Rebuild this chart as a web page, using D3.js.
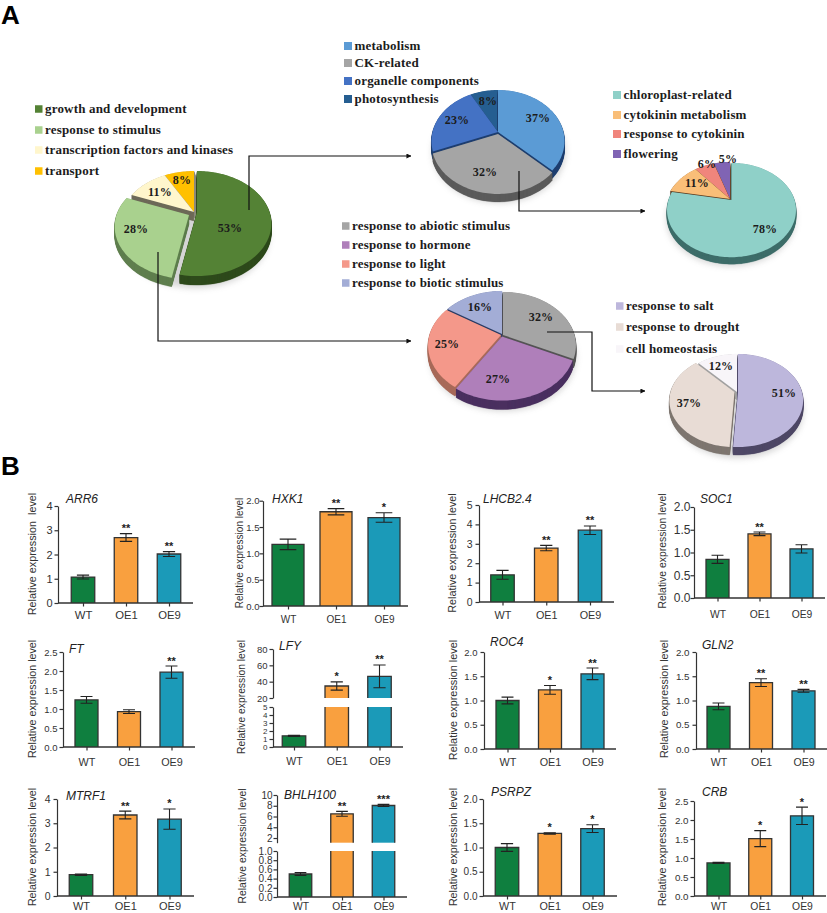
<!DOCTYPE html>
<html><head><meta charset="utf-8">
<script src="https://cdn.jsdelivr.net/npm/d3@7"></script>
<style>
html,body{margin:0;padding:0;background:#fff}
svg{display:block}
.leg{font:bold 13px "Liberation Serif";fill:#1c1c1c;letter-spacing:.18px}
.pct{font:bold 12px "Liberation Serif";fill:#1c1c1c;text-anchor:middle;dominant-baseline:central;letter-spacing:.2px}
.tick text{font-family:"Liberation Sans";fill:#333}
.yl{font-family:"Liberation Sans";fill:#333;text-anchor:middle}
.gn{font:italic 12px "Liberation Sans";fill:#222}
.st{font:bold 11px "Liberation Sans";fill:#222;text-anchor:middle}
.pl{font:bold 26px "Liberation Sans";fill:#000}
</style></head><body>
<svg id="c" width="827" height="913"></svg>
<script>
// ---------- data: pies ----------
const pie1Labels=["growth and development","response to stimulus","transcription factors and kinases","transport"];
const pie1Values=[53,28,11,8];
const pie2Labels=["metabolism","CK-related","organelle components","photosynthesis"];
const pie2Values=[37,32,23,8];
const pie3Labels=["chloroplast-related","cytokinin metabolism","response to cytokinin","flowering"];
const pie3Values=[78,11,6,5];
const pie4Labels=["response to abiotic stimulus","response to hormone","response to light","response to biotic stimulus"];
const pie4Values=[32,27,25,16];
const pie5Labels=["response to salt","response to drought","cell homeostasis"];
const pie5Values=[51,37,12];

// ---------- data: bars ----------
const strains=["WT","OE1","OE9"];
const genes=["ARR6","HXK1","LHCB2.4","SOC1","FT","LFY","ROC4","GLN2","MTRF1","BHLH100","PSRPZ","CRB"];
const means=[[1.07,2.7,2.02],[1.17,1.79,1.68],[1.4,2.78,3.7],[.85,1.41,1.08],[1.24,.93,1.97],[1.4,34.7,46.5],
             [1.0,1.22,1.55],[.88,1.37,1.2],[.88,3.34,3.17],[.5,6.5,8.05],[1.0,1.29,1.39],[.87,1.51,2.11]];
const errors=[[.08,.16,.1],[.1,.06,.09],[.23,.14,.22],[.09,.04,.09],[.09,.05,.16],[.07,5,14],
              [.07,.09,.12],[.07,.08,.03],[.03,.16,.42],[.03,.45,.2],[.08,.015,.08],[.015,.21,.23]];
const stars=[["","**","**"],["","**","*"],["","**","**"],["","**",""],["","","**"],["","*","**"],
             ["","*","**"],["","**","**"],["","**","*"],["","**","***"],["","*","*"],["","*","*"]];
const yTicks=[[0,1,2,3,4],[0,.5,1,1.5,2],[0,1,2,3,4,5],[0,.5,1,1.5,2],[0,.5,1,1.5,2,2.5],[0,1,2,3,4,5],
              [0,.5,1,1.5,2],[0,.5,1,1.5,2],[0,1,2,3,4],[0,.2,.4,.6,.8,1],[0,.5,1,1.5,2],[0,.5,1,1.5,2,2.5]];
const upperTicksLFY=[20,40,60,80];
const upperTicksBHLH=[2,4,6,8,10];
const yTitles=["Relative expression  level"].concat(Array(11).fill("Relative expression level"));

// ---------- layout ----------
const pieLayouts=[
 {labels:pie1Labels,values:pie1Values,v:[194,212],rx:72.5,ry:50,p:.22,d:9,
  fill:["#548235","#A9D18E","#FFF6CC","#FFC000"],wall:["#2E4A1C","#5F7F4E","#6E6A58","#8E8C7E"],
  off:[[3,0],[-5,3],[0,0],[0,0]],skew:[0,0,0,.33],
  pct:[[230,228],[136,229],[160,192],[182,180]],
  leg:{x:35,s:7.5,ys:[109,130,150,171]}},
 {labels:pie2Labels,values:pie2Values,v:[498,132],rx:65.5,ry:49.4,p:.176,d:8,
  fill:["#5B9BD5","#A5A5A5","#4472C4","#255E91"],wall:["#1F3F70","#5B5B5B","#1F3F70","#1F3F70"],
  off:[[0,0],[0,2],[0,0],[0,0]],skew:[0,0,0,0],
  pct:[[538,118],[485,172],[457,120],[488,101]],
  leg:{x:344,s:8,ys:[46,63,81,99]}},
 {labels:pie3Labels,values:pie3Values,v:[730,199],rx:63,ry:45,p:.213,d:7,
  fill:["#8FD0C8","#F9BE78","#F0857C","#8064B4"],wall:["#3E6E6A","#5A3A20","#5A3A20","#5A3A20"],
  off:[[1.5,1],[0,0],[0,0],[0,0]],skew:[0,0,0,0],
  pct:[[765,229],[697,183],[707,164],[728,159]],
  leg:{x:613,s:8,ys:[95,115,134,154]}},
 {labels:pie4Labels,values:pie4Values,v:[502,335],rx:71.5,ry:51.5,p:.196,d:9,
  fill:["#A5A5A5","#AF7FBA","#F4988A","#A3ADD6"],wall:["#555555","#4A3060","#A86A5A","#2C3E66"],
  off:[[1,0],[0,1.5],[-1,0],[0,-1]],skew:[0,0,0,0],
  pct:[[541,317],[498,379],[447,344],[480,307]],
  leg:{x:342,s:7.5,ys:[226,245,264,283]}},
 {labels:pie5Labels,values:pie5Values,v:[737,392],rx:64,ry:45,p:.183,d:8,
  fill:["#BDB7DC","#E8DCD5","#F8F5F9"],wall:["#4E4866","#7E7670","#A0A0A0"],
  off:[[1,0],[-2.5,0],[0,0]],skew:[0,0,0],
  pct:[[784,393],[689,403],[721,366]],
  leg:{x:616,s:7.5,ys:[306,327,349]}}
];
const arrowPaths=[
 [[249,210],[249,156],[411,156]],
 [[158,252],[158,341],[411,341]],
 [[519,171],[519,211],[645,211]],
 [[547,332],[592,332],[592,391],[645,391]]
];
const barLayouts=[
 {ax:58,end:193,y0:603,top:506,c:[83,169],w:23.5,title:[66,503],yl:[36,554],xo:4.5,tf:11,xf:11.3,ylf:10.8,tp:2},
 {ax:263,end:408,y0:606,top:500.7,c:[288,384],w:32,title:[272,503],yl:[243,553],xo:6.5,tf:9.5,xf:10,ylf:10,tp:0},
 {ax:479,end:614,y0:602,top:505,c:[502.5,590],w:23.5,title:[483,503],yl:[456,553],xo:5.5,tf:10.5,xf:10.8,ylf:10.8,tp:3},
 {ax:694,end:825,y0:598,top:507,c:[717.5,801.5],w:23,title:[700,503],yl:[666,551],xo:9.5,tf:12,xf:10.3,ylf:10.4,tp:0},
 {ax:63,end:195,y0:747,top:652,c:[86.5,171.5],w:23,title:[69,653],yl:[36,699],xo:7.5,tf:9.5,xf:10.8,ylf:10.7,tp:2},
 {ax:273,end:403,y0:747,top:707,c:[294,379.5],w:23.5,title:[279,650],yl:[245,697],xo:7.5,tf:9.5,ltf:8,xf:10.5,ylf:10.3,tp:2,up:{min:20,max:80,bottom:698,top:649,ticks:upperTicksLFY}},
 {ax:484,end:616,y0:749,top:652,c:[507.5,592.5],w:23,title:[490,646],yl:[457,700],xo:5.5,tf:9.5,xf:10.8,ylf:10.9,tp:3},
 {ax:696,end:827,y0:749,top:652,c:[718.5,803.5],w:23,title:[702,649],yl:[668,699],xo:5.5,tf:9.8,xf:10.6,ylf:10.7,tp:3},
 {ax:57,end:194,y0:896,top:799,c:[81,169.5],w:23.5,title:[66,800],yl:[36,847],xo:3,tf:10.5,xf:11,ylf:10.7,tp:3},
 {ax:277,end:407,y0:897,top:851,c:[300.5,383.5],w:22.5,title:[284,799],yl:[246,846],xo:2.5,tf:10,xf:10.3,ylf:10.4,tp:1,up:{min:1.13,max:10,bottom:842.7,top:795,ticks:upperTicksBHLH}},
 {ax:483,end:617,y0:896,top:799,c:[507,592.5],w:23.5,title:[491,796],yl:[457,847],xo:3,tf:10,xf:10.8,ylf:10.7,tp:2},
 {ax:694,end:826,y0:896,top:801,c:[718.5,802],w:23,title:[702,796],yl:[666,847],xo:3,tf:9.8,xf:10.4,ylf:10.7,tp:2}
];
const barFill=d3.scaleOrdinal().domain(strains).range(["#0F7F3F","#F9A03F","#1B9AB8"]);
const ink="#333";

const svg=d3.select("#c");
svg.append("defs").append("filter").attr("id","blur").attr("x","-30%").attr("y","-30%").attr("width","160%").attr("height","160%")
   .append("feGaussianBlur").attr("stdDeviation",3);
const m=svg.append("marker").attr("id","ah").attr("viewBox","0 0 6 6").attr("refX",5.5).attr("refY",3)
   .attr("markerWidth",5).attr("markerHeight",5).attr("markerUnits","userSpaceOnUse").attr("orient","auto");
m.append("path").attr("d","M0,0L6,3L0,6Z").attr("fill","#111");

svg.append("text").attr("class","pl").attr("x",1).attr("y",24).text("A");
svg.append("text").attr("class","pl").attr("x",1).attr("y",475).text("B");

// ---------- pies ----------
const lineGen=d3.line();
function drawPie(L){
  const g=svg.append("g");
  const proj=(a,r)=>{const u=Math.sin(a)*r,v=-Math.cos(a)*r,s=1/(1-L.p*v);return [L.rx*u*s,L.ry*v*s];};
  const arcs=d3.pie().sort(null).value(d=>d).startAngle(0).endAngle(2*Math.PI)(L.values);
  const slicePts=d=>{const n=Math.max(2,Math.ceil((d.endAngle-d.startAngle)/.03)),pts=[[0,0]];
    for(let i=0;i<=n;i++)pts.push(proj(d.startAngle+(d.endAngle-d.startAngle)*i/n,1));return pts;};
  // soft ground shadow
  const ring=d3.range(0,2*Math.PI,.05).map(a=>proj(a,1.0));
  g.append("path").attr("d",lineGen(ring)+"Z").attr("transform",`translate(${L.v[0]+1},${L.v[1]+L.d+3})`)
    .attr("fill","#888").attr("opacity",.35).attr("filter","url(#blur)");
  const order=arcs.map((d,i)=>({d,i,k:-Math.cos((d.startAngle+d.endAngle)/2)})).sort((a,b)=>a.k-b.k);
  order.forEach(({d,i})=>{
    const o=L.off[i],sl=g.append("g").attr("transform",`translate(${L.v[0]+o[0]},${L.v[1]+o[1]})`);
    const path=lineGen(slicePts(d))+"Z";
    sl.selectAll("path.w").data(d3.range(L.d,0,-.5)).join("path").attr("class","w")
      .attr("d",path).attr("transform",t=>`translate(${t*L.skew[i]},${t})`).attr("fill",L.wall[i]).attr("stroke",L.wall[i]).attr("stroke-width",.3);
    sl.append("path").attr("d",path).attr("fill",L.fill[i]);
  });
  L.values.forEach((v,i)=>{
    svg.append("text").attr("class","pct").attr("x",L.pct[i][0]).attr("y",L.pct[i][1]).text(v+"%");
    svg.append("rect").attr("x",L.leg.x).attr("y",L.leg.ys[i]-L.leg.s/2).attr("width",L.leg.s).attr("height",L.leg.s).attr("fill",L.fill[i]);
    svg.append("text").attr("class","leg").attr("x",L.leg.x+L.leg.s+2.5).attr("y",L.leg.ys[i]+3.5).text(L.labels[i]);
  });
}
pieLayouts.forEach(drawPie);

svg.selectAll("path.arrow").data(arrowPaths).join("path").attr("class","arrow")
  .attr("d",d=>lineGen(d)).attr("fill","none").attr("stroke","#111").attr("stroke-width",1.2).attr("marker-end","url(#ah)");

// ---------- bars ----------
genes.forEach((gene,gi)=>{
  const L=barLayouts[gi],g=svg.append("g");
  const x=d3.scalePoint().domain(strains).range(L.c);
  const low=d3.scaleLinear().domain([0,d3.max(yTicks[gi])]).range([L.y0,L.top]);
  const up=L.up?d3.scaleLinear().domain([L.up.min,L.up.max]).range([L.up.bottom,L.up.top]):null;
  const Y=v=>(up&&v>low.domain()[1])?up(v):low(v);
  const fmt=yTicks[gi].every(t=>t%1===0)?d3.format("d"):d3.format(".1f");
  // bars
  strains.forEach((s,i)=>{
    const mv=means[gi][i],e=errors[gi][i],cx=x(s),w=L.w;
    const rects=(up&&mv>low.domain()[1])?[[low.domain()[1],0],[mv,up.domain()[0]]]:[[mv,0]];
    rects.forEach(([hi,lo],ri)=>{
      const isTopSeg=up&&ri===1, y1=Y(hi), y2=isTopSeg?up(lo):low(lo);
      g.append("rect").attr("x",cx-w/2).attr("y",y1).attr("width",w).attr("height",y2-y1)
       .attr("fill",barFill(s)).attr("stroke","none");
      const edge=ri===0&&rects.length>1?`M${cx-w/2},${y2}V${y1}M${cx+w/2},${y2}V${y1}`:
                 `M${cx-w/2},${y2}V${y1}H${cx+w/2}V${y2}`;
      g.append("path").attr("d",edge).attr("fill","none").attr("stroke",ink).attr("stroke-width",1.3);
    });
    const cap=w*.26,t=Y(mv+e),b=Y(mv-e);
    g.append("path").attr("d",`M${cx-cap},${t}H${cx+cap}M${cx},${t}V${b}M${cx-cap},${b}H${cx+cap}`)
     .attr("fill","none").attr("stroke","#222").attr("stroke-width",1.1);
    if(stars[gi][i]) g.append("text").attr("class","st").attr("x",cx).attr("y",t-1.5).text(stars[gi][i]);
  });
  // axes
  const la=d3.axisLeft(low).tickValues(yTicks[gi]).tickFormat(fmt).tickSize(3.5).tickSizeOuter(0).tickPadding(L.tp);
  const ga=g.append("g").attr("transform",`translate(${L.ax},0)`).call(la);
  if(up){
    const ua=d3.axisLeft(up).tickValues(L.up.ticks).tickFormat(d3.format("d")).tickSize(3.5).tickSizeOuter(0).tickPadding(L.tp);
    g.append("g").attr("transform",`translate(${L.ax},0)`).call(ua).call(s=>s.selectAll("text").style("font-size",L.tf+"px"))
      .call(s=>s.selectAll("path,line").attr("stroke",ink).attr("stroke-width",1.2));
  }
  ga.selectAll("text").style("font-size",(L.ltf||L.tf)+"px");
  ga.selectAll("path,line").attr("stroke",ink).attr("stroke-width",1.2);
  const xa=d3.axisBottom(x).tickSize(3.5).tickSizeOuter(0).tickPadding(L.xo);
  const gx=g.append("g").attr("transform",`translate(0,${L.y0})`).call(xa);
  gx.select(".domain").remove();
  gx.selectAll("line").attr("stroke",ink).attr("stroke-width",1.2);
  gx.selectAll("text").style("font-size",L.xf+"px");
  g.append("line").attr("x1",L.ax).attr("x2",L.end).attr("y1",L.y0).attr("y2",L.y0).attr("stroke",ink).attr("stroke-width",1.3);
  g.append("text").attr("class","gn").attr("x",L.title[0]).attr("y",L.title[1]).text(gene);
  g.append("text").attr("class","yl").style("white-space","pre").style("font-size",L.ylf+"px")
   .attr("transform",`translate(${L.yl[0]},${L.yl[1]}) rotate(-90)`).text(yTitles[gi]);
});
</script>
</body></html>
